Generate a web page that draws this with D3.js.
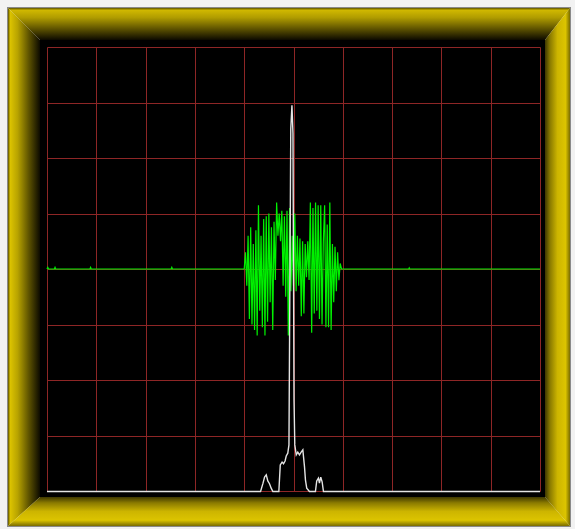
<!DOCTYPE html>
<html>
<head>
<meta charset="utf-8">
<script src="https://cdn.jsdelivr.net/npm/d3@7"></script>
<style>
  html, body { margin: 0; padding: 0; background: #f2f2f2; }
  svg { display: block; }
</style>
</head>
<body>
<svg id="scope" width="575" height="529"></svg>
<script>
// Screen divisions of the scope graticule
const gridCols = [0, 1, 2, 3, 4, 5, 6, 7, 8, 9, 10];
const gridRows = [0, 1, 2, 3, 4, 5, 6, 7, 8];

// Sample axis: 0..380 samples across the screen
const sampleCount = 380;

// Channel A (green): quiet segments as [sample, divisions]
const greenLead = [[0, 0], [0.6, 0.03], [1.2, 0], [5.7, 0], [6.2, 0.03], [6.7, 0], [33.1, 0], [33.6, 0.03], [34.1, 0],
                   [95.7, 0], [96.2, 0.03], [96.7, 0], [152, 0]];
const greenTrail = [[228, 0], [278.8, 0], [279.2, 0.02], [279.6, 0], [380, 0]];

// Channel A burst, one value per sample starting at sample 152
const burstStart = 152;
const greenBurst = [
   0.00,  0.30, -0.30,  0.60, -0.90,  0.75, -1.00,  0.45, -1.10,  0.70,
  -1.20,  1.15, -0.75,  0.60, -1.05,  0.90, -1.20,  0.95, -0.95,  1.00,
  -0.60,  0.75, -1.10,  0.85, -0.20,  1.20,  0.60,  1.00,  0.50,  1.05,
  -0.30,  0.95, -0.50,  1.05, -1.20,  1.10, -0.40,  0.60, -0.30,  1.00,
  -0.40,  0.60, -0.30,  0.55, -0.85,  0.50, -0.80,  0.45, -0.15,  0.50,
  -0.20,  1.20, -1.15,  1.10, -0.80,  1.20, -0.75,  1.15, -0.90,  1.15,
  -1.00,  0.50,  1.15, -1.05,  0.80, -1.05,  1.20, -1.10,  0.45, -0.60,
   0.40, -0.40,  0.30, -0.20,  0.10,  0.00
];

// Channel B (white): magnitude trace as [sample, divisions]
const whiteTrace = [
  [0, 0], [164.6, 0], [166.5, 0.15], [167.7, 0.26], [169.0, 0.30], [170.2, 0.19],
  [171.5, 0.14], [172.8, 0.06], [174.1, 0], [178.7, 0], [179.8, 0.48], [181.2, 0.53],
  [182.3, 0.50], [183.5, 0.55], [184.4, 0.64], [185.6, 0.69], [186.5, 0.84],
  [187.9, 6.53], [188.8, 6.96], [189.6, 6.45], [190.4, 1.65], [191.0, 0.84],
  [192.1, 0.66], [193.3, 0.71], [194.6, 0.66], [195.9, 0.71], [197.2, 0.75],
  [198.5, 0.44], [199.2, 0.21], [200.2, 0.06], [202.3, 0], [206.9, 0],
  [207.9, 0.19], [209.2, 0.24], [210.0, 0.15], [211.0, 0.26], [212.1, 0.17],
  [213.1, 0], [380, 0]
];

const svg = d3.select("#scope");

// Plot geometry
const plot = { left: 47, right: 540, top: 47, bottom: 491 };
const frameOuter = { x0: 8, y0: 8, x1: 570, y1: 526 };
const frameInner = { x0: 40, y0: 40, x1: 545, y1: 497 };

const x = d3.scaleLinear().domain([0, sampleCount]).range([plot.left, plot.right]);
const gx = d3.scaleLinear().domain([0, 10]).range([plot.left, plot.right]);
const gy = d3.scaleLinear().domain([0, 8]).range([plot.bottom, plot.top]);
const yA = d3.scaleLinear().domain([-4, 4]).range([plot.bottom, plot.top]);
const yB = d3.scaleLinear().domain([0, 8]).range([plot.bottom + 0.5, plot.top + 0.5]);

const defs = svg.append("defs");
function grad(id, x1, y1, x2, y2, stops) {
  const g = defs.append("linearGradient").attr("id", id)
    .attr("gradientUnits", "userSpaceOnUse")
    .attr("x1", x1).attr("y1", y1).attr("x2", x2).attr("y2", y2);
  stops.forEach(([o, c]) => g.append("stop").attr("offset", o).attr("stop-color", c));
}
const O = frameOuter, I = frameInner;
grad("bevTop", 0, O.y0, 0, I.y0, [[0, "#5a5000"], [0.07, "#d0b800"], [0.3, "#b09c00"], [0.65, "#5e5300"], [1, "#0c0a00"]]);
grad("bevLeft", O.x0, 0, I.x0, 0, [[0, "#5a5000"], [0.07, "#dcc300"], [0.3, "#b8a300"], [0.65, "#5e5300"], [1, "#0c0a00"]]);
grad("bevRight", I.x1, 0, O.x1, 0, [[0, "#3e3700"], [0.2, "#8a7a00"], [0.5, "#cdb500"], [0.82, "#dcc400"], [1, "#7a6c00"]]);
grad("bevBottom", 0, I.y1, 0, O.y1, [[0, "#3e3700"], [0.2, "#8a7a00"], [0.5, "#cdb500"], [0.8, "#dcc400"], [1, "#7a6c00"]]);

// Black screen
svg.append("rect")
  .attr("x", I.x0).attr("y", I.y0)
  .attr("width", I.x1 - I.x0).attr("height", I.y1 - I.y0)
  .attr("fill", "#000");

// Beveled frame
const bevels = [
  { fill: "url(#bevTop)", pts: [[O.x0, O.y0], [O.x1, O.y0], [I.x1, I.y0], [I.x0, I.y0]] },
  { fill: "url(#bevLeft)", pts: [[O.x0, O.y0], [I.x0, I.y0], [I.x0, I.y1], [O.x0, O.y1]] },
  { fill: "url(#bevRight)", pts: [[O.x1, O.y0], [O.x1, O.y1], [I.x1, I.y1], [I.x1, I.y0]] },
  { fill: "url(#bevBottom)", pts: [[O.x0, O.y1], [I.x0, I.y1], [I.x1, I.y1], [O.x1, O.y1]] }
];
svg.append("g").selectAll("polygon").data(bevels).join("polygon")
  .attr("points", d => d.pts.map(p => p.join(",")).join(" "))
  .attr("fill", d => d.fill);
svg.append("rect")
  .attr("x", O.x0 - 0.5).attr("y", O.y0 - 0.5)
  .attr("width", O.x1 - O.x0 + 1).attr("height", O.y1 - O.y0 + 1)
  .attr("fill", "none").attr("stroke", "#8a8a8a").attr("stroke-width", 1);

// Graticule
const grid = svg.append("g").attr("stroke", "#8e2626").attr("stroke-width", 1);
grid.selectAll("line.v").data(gridCols).join("line").attr("class", "v")
  .attr("x1", d => Math.round(gx(d)) + 0.5).attr("x2", d => Math.round(gx(d)) + 0.5)
  .attr("y1", plot.top + 0.5).attr("y2", plot.bottom + 0.5);
grid.selectAll("line.h").data(gridRows).join("line").attr("class", "h")
  .attr("y1", d => Math.round(gy(d)) + 0.5).attr("y2", d => Math.round(gy(d)) + 0.5)
  .attr("x1", plot.left + 0.5).attr("x2", plot.right + 0.5);

// Channel A (green)
const greenPoints = greenLead
  .concat(greenBurst.map((v, i) => [burstStart + i, v]))
  .concat(greenTrail);
const lineA = d3.line().x(d => x(d[0])).y(d => yA(d[1]));
svg.append("path").datum(greenPoints)
  .attr("d", lineA)
  .attr("fill", "none").attr("stroke", "#00f000").attr("stroke-width", 1.2)
  .attr("stroke-linejoin", "miter");

// Channel B (white)
const lineB = d3.line().x(d => x(d[0])).y(d => yB(d[1]));
svg.append("path").datum(whiteTrace)
  .attr("d", lineB)
  .attr("fill", "none").attr("stroke", "#e4e4e4").attr("stroke-width", 1.4);
</script>
</body>
</html>
